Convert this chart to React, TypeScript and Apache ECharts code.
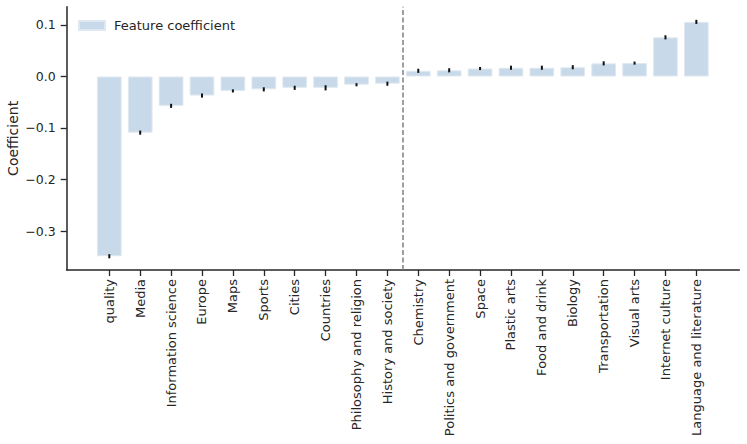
import React, { useEffect, useRef } from "react";
import * as echarts from "echarts";

const categories = [
  "quality", "Media", "Information science", "Europe", "Maps", "Sports", "Cities",
  "Countries", "Philosophy and religion", "History and society", "Chemistry",
  "Politics and government", "Space", "Plastic arts", "Food and drink", "Biology",
  "Transportation", "Visual arts", "Internet culture", "Language and literature",
];
const coefficients = [
  -0.349, -0.109, -0.057, -0.037, -0.028, -0.025, -0.022, -0.022, -0.016, -0.014,
  0.011, 0.012, 0.0155, 0.017, 0.017, 0.018, 0.0255, 0.026, 0.076, 0.106,
];
const errors = [
  0.004, 0.004, 0.004, 0.004, 0.003, 0.004, 0.004, 0.005, 0.003, 0.004,
  0.004, 0.004, 0.003, 0.004, 0.004, 0.004, 0.004, 0.003, 0.004, 0.004,
];
const yTicks = [-0.3, -0.2, -0.1, 0.0, 0.1];
const splitIndex = 9.5;

const FONT = "DejaVu Sans";
const INK = "#262626";

export default function App() {
  const ref = useRef<HTMLDivElement>(null);
  useEffect(() => {
    document.body.style.margin = "0";
    const chart = echarts.init(ref.current!, null, { renderer: "svg" });
    const idx = categories.map((_, i) => i);
    chart.setOption({
      animation: false,
      textStyle: { fontFamily: FONT, color: INK },
      grid: { left: 66.7, right: 7.7, top: 6.7, bottom: 174, containLabel: false, outerBoundsMode: "none" },
      legend: {
        left: 73,
        top: 14,
        itemWidth: 26,
        itemHeight: 9,
        icon: "rect",
        itemGap: 10,
        textStyle: { fontFamily: FONT, fontSize: 13, color: INK, padding: [0, 0, 0, 4] },
        data: ["Feature coefficient"],
      },
      xAxis: {
        type: "value",
        min: -1.379,
        max: 20.39,
        splitLine: { show: false },
        axisLine: { onZero: false, lineStyle: { color: INK, width: 1.5 } },
        axisTick: { show: true, length: 6, lineStyle: { color: INK, width: 1.3 }, customValues: idx },
        axisLabel: {
          customValues: idx,
          rotate: 90,
          margin: 9,
          fontFamily: FONT,
          fontSize: 13,
          color: INK,
          formatter: (v: number) => categories[Math.round(v)] ?? "",
        },
      },
      yAxis: {
        type: "value",
        min: -0.3757,
        max: 0.1355,
        name: "Coefficient",
        nameLocation: "middle",
        nameGap: 47,
        nameMoveOverlap: false,
        nameTextStyle: { fontFamily: FONT, fontSize: 14, color: INK },
        splitLine: { show: false },
        axisLine: { show: true, onZero: false, lineStyle: { color: INK, width: 1.5 } },
        axisTick: { show: true, length: 6, lineStyle: { color: INK, width: 1.3 }, customValues: yTicks },
        axisLabel: {
          customValues: yTicks,
          margin: 11,
          fontFamily: FONT,
          fontSize: 12.5,
          color: INK,
          formatter: (v: number) => v.toFixed(1).replace("-", "\u2212"),
        },
      },
      series: [
        {
          name: "Feature coefficient",
          type: "bar",
          barWidth: 24.7,
          itemStyle: { color: "#c8dae9", borderColor: "#dfe8f1", borderWidth: 1 },
          data: coefficients.map((v, i) => [i, v]),
          markLine: {
            silent: true,
            symbol: "none",
            label: { show: false },
            lineStyle: { color: "#808080", type: [5, 2.5], width: 1.5 },
            data: [{ xAxis: splitIndex }],
          },
        },
        {
          type: "custom",
          name: "err",
          data: coefficients.map((v, i) => [i, v - errors[i], v + errors[i]]),
          renderItem: (params: any, api: any) => {
            const x = api.value(0);
            const lo = api.coord([x, api.value(1)]);
            const hi = api.coord([x, api.value(2)]);
            return {
              type: "line",
              shape: { x1: lo[0], y1: lo[1], x2: hi[0], y2: hi[1] },
              style: { stroke: "#111", lineWidth: 2 },
            };
          },
          z: 5,
        },
      ],
    });
    return () => chart.dispose();
  }, []);
  return <div ref={ref} style={{ width: 747, height: 444 }} />;
}
